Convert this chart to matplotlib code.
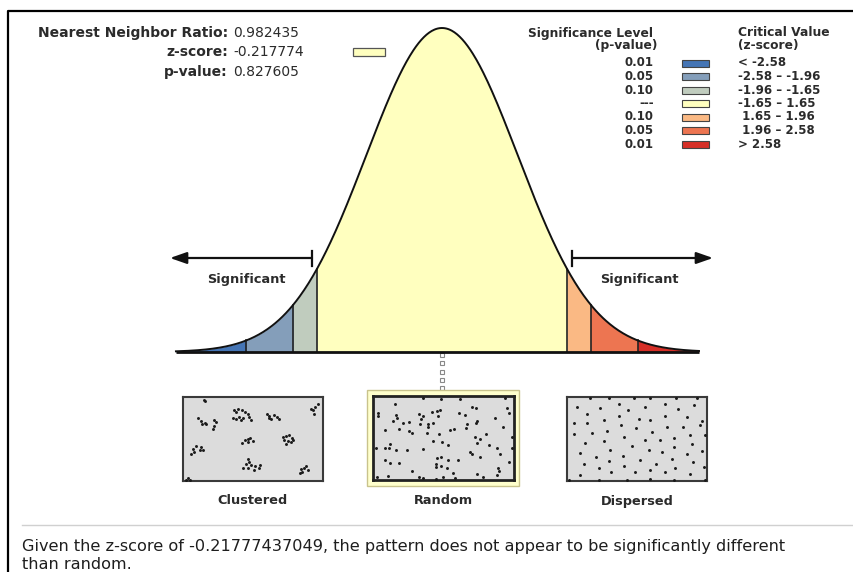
import numpy as np
import matplotlib
matplotlib.use("Agg")
import matplotlib.pyplot as plt
from matplotlib.patches import Rectangle

# ---------------- data ----------------
nn_ratio = "0.982435"
z_score = "-0.217774"
p_value = "0.827605"
z_full = "-0.21777437049"

z_breaks = [-2.58, -1.96, -1.65, 1.65, 1.96, 2.58]
z_ends = [-3.51, 3.39]
region_colors = ["#4575b5", "#849eba", "#c0ccbe", "#ffffbf", "#fab984", "#ed7551", "#d62f27"]

legend_p = ["0.01", "0.05", "0.10", "---", "0.10", "0.05", "0.01"]
legend_z = ["< -2.58", "-2.58 – -1.96", "-1.96 – -1.65", "-1.65 – 1.65",
            " 1.65 – 1.96", " 1.96 – 2.58", "> 2.58"]

panel_labels = ["Clustered", "Random", "Dispersed"]

clustered_pts = [(103,58),(107,63),(85,112),(95,122),(98,130),(105,128),(108,132),(132,120),(140,125),
    (133,137),(130,145),(195,88),(205,85),(200,95),(218,88),(228,95),(237,100),(190,112),(200,115),
    (208,110),(215,118),(222,112),(240,110),(245,118),(292,100),(300,108),(305,115),(315,105),(322,110),
    (330,115),(298,112),(425,85),(432,90),(438,80),(448,72),(435,100),(218,188),(228,180),(235,175),
    (242,172),(250,182),(235,185),(342,170),(350,167),(360,165),(368,172),(345,180),(355,183),(365,185),
    (350,192),(372,178),(70,205),(80,198),(95,200),(100,210),(72,215),(65,222),(90,210),(235,235),
    (240,245),(230,250),(245,255),(258,258),(268,262),(220,262),(235,262),(255,268),(272,255),(395,265),
    (405,262),(412,258),(418,270),(392,278),(400,275),(55,293),(62,298),(50,300)]
random_pts = [(105,72),(190,55),(245,58),(300,57),(335,80),(348,84),(435,55),(440,85),(448,100),(55,98),
    (55,108),(110,105),(112,115),(100,122),(130,128),(148,127),(178,103),(190,107),(185,118),(218,95),
    (232,92),(242,90),(236,108),(220,128),(205,133),(182,133),(298,100),(315,104),(350,123),(347,130),
    (320,133),(405,115),(75,150),(118,148),(147,153),(158,160),(205,140),(203,158),(238,162),(270,150),
    (282,148),(318,145),(345,172),(360,177),(378,163),(350,188),(388,195),(428,140),(455,172),(90,193),
    (220,183),(248,186),(88,203),(75,203),(50,203),(110,210),(143,210),(190,208),(265,194),(330,215),
    (335,222),(360,230),(410,205),(420,222),(75,240),(90,248),(118,248),(232,235),(245,232),(265,240),
    (295,240),(230,253),(243,258),(262,263),(228,262),(448,245),(158,272),(178,290),(190,293),(230,297),
    (250,290),(280,280),(285,295),(350,282),(370,292),(410,285),(415,265),(418,272),(52,292),(85,288),
    (455,205)]
dispersed_pts = [(118,52),(175,52),(250,52),(300,52),(378,52),(440,52),(80,80),(150,82),(205,70),(232,88),
    (285,80),(345,72),(382,85),(430,75),(110,100),(205,107),(265,115),(300,118),(345,108),(410,110),
    (455,122),(70,127),(110,127),(160,120),(212,135),(258,143),(305,155),(350,140),(398,140),(448,135),
    (72,162),(125,158),(170,152),(220,170),(283,180),(330,180),(372,172),(418,165),(465,163),(105,188),
    (160,183),(245,198),(295,209),(335,215),(370,200),(425,190),(90,218),(137,230),(180,208),(218,228),
    (268,240),(318,250),(365,235),(410,220),(455,212),(100,250),(145,263),(175,242),(222,258),(255,275),
    (300,270),(345,275),(375,262),(418,280),(428,244),(460,260),(90,283),(182,276),(55,300),(145,298),
    (230,300),(300,296),(370,298),(465,300)]
panel_pts = [clustered_pts, random_pts, dispersed_pts]
panel_src_box = [(40, 462, 50, 302), (40, 462, 48, 300), (50, 470, 50, 302)]

# ---------------- figure ----------------
W, H = 854, 572
fig = plt.figure(figsize=(W / 100, H / 100), dpi=100)
fig.patch.set_facecolor("white")

def fax(x0, y0, x1, y1):
    """axes placed by pixel box (top-left origin)"""
    return fig.add_axes([x0 / W, 1 - y1 / H, (x1 - x0) / W, (y1 - y0) / H])

# overlay axes in pixel coordinates
ov = fig.add_axes([0, 0, 1, 1])
ov.set_xlim(0, W)
ov.set_ylim(H, 0)
ov.axis("off")

# frame
ov.plot([8, 8, W], [H, 11, 11], color="black", lw=1.6, solid_capstyle="butt")

TXT = "#2b2b2b"
TF = 10.0
# top-left stats
ov.text(228, 33, "Nearest Neighbor Ratio:", ha="right", va="center", fontsize=TF, fontweight="bold", color=TXT)
ov.text(233, 33, nn_ratio, ha="left", va="center", fontsize=TF, color=TXT)
ov.text(228, 52, "z-score:", ha="right", va="center", fontsize=TF, fontweight="bold", color=TXT)
ov.text(233, 52, z_score, ha="left", va="center", fontsize=TF, color=TXT)
ov.add_patch(Rectangle((353, 48), 32, 8, facecolor="#ffffbf", edgecolor="#555555", lw=0.9))
ov.text(228, 72, "p-value:", ha="right", va="center", fontsize=TF, fontweight="bold", color=TXT)
ov.text(233, 72, p_value, ha="left", va="center", fontsize=TF, color=TXT)

# legend
LH = 8.8
LF = 8.5
ov.text(653, 33, "Significance Level", ha="right", va="center", fontsize=LH, fontweight="bold", color=TXT)
ov.text(657, 46, "(p-value)", ha="right", va="center", fontsize=LH, fontweight="bold", color=TXT)
ov.text(738, 33, "Critical Value", ha="left", va="center", fontsize=LH, fontweight="bold", color=TXT)
ov.text(738, 46, "(z-score)", ha="left", va="center", fontsize=LH, fontweight="bold", color=TXT)
row_y0, row_dy = 63, 13.5
for i, (p, z, c) in enumerate(zip(legend_p, legend_z, region_colors)):
    y = row_y0 + i * row_dy
    ov.text(654, y, p, ha="right", va="center", fontsize=LF, fontweight="bold", color=TXT)
    ov.add_patch(Rectangle((682, y - 3.5), 27, 7, facecolor=c, edgecolor="#444444", lw=0.8))
    ov.text(738, y, z, ha="left", va="center", fontsize=LF, fontweight="bold", color=TXT)

# ---------------- bell curve ----------------
cx, sx, base, top = 442, 75.8, 352, 28
zlim = 3.6
ca = fax(cx - zlim * sx, top, cx + zlim * sx, base)
ca.set_xlim(-zlim, zlim)
ca.set_ylim(0, 1)
ca.axis("off")
ca.patch.set_alpha(0)

def pdf(z):
    return np.exp(-0.5 * np.asarray(z) ** 2)

edges = [z_ends[0]] + z_breaks + [z_ends[1]]
for k in range(len(edges) - 1):
    zz = np.linspace(edges[k], edges[k + 1], 200)
    ca.fill_between(zz, 0, pdf(zz), color=region_colors[k], lw=0)
for zb in z_breaks:
    ca.plot([zb, zb], [0, pdf(zb)], color="#222222", lw=1.2, clip_on=False)
zz = np.linspace(z_ends[0], z_ends[1], 600)
ca.plot(zz, pdf(zz), color="#111111", lw=1.4, clip_on=False)
ca.plot(z_ends, [0, 0], color="#111111", lw=2.0, clip_on=False, solid_capstyle="butt")

# arrows / labels
ay = 258
ov.annotate("", xy=(170, ay), xytext=(312, ay),
            arrowprops=dict(arrowstyle="-|>,head_length=1.0,head_width=0.35", color="#111111", lw=1.6, shrinkA=0, shrinkB=0))
ov.plot([312, 312], [251, 266], color="#111111", lw=1.6)
ov.annotate("", xy=(713, ay), xytext=(572, ay),
            arrowprops=dict(arrowstyle="-|>,head_length=1.0,head_width=0.35", color="#111111", lw=1.6, shrinkA=0, shrinkB=0))
ov.plot([572, 572], [251, 266], color="#111111", lw=1.6)
BF = 9.3
ov.text(246, 280, "Significant", ha="center", va="center", fontsize=BF, fontweight="bold", color=TXT)
ov.text(639, 280, "Significant", ha="center", va="center", fontsize=BF, fontweight="bold", color=TXT)
ov.text(445, 261, "(Random)", ha="center", va="center", fontsize=BF, fontweight="bold", color=TXT)

# dotted connector
for yy in [355, 363, 372, 380, 388]:
    ov.add_patch(Rectangle((440, yy - 1.8), 4, 3.6, facecolor="white", edgecolor="#888888", lw=0.8))

# ---------------- panels ----------------
panel_boxes = [(183, 397, 323, 481), (373, 396, 514, 480), (567, 397, 707, 481)]
label_x = [253, 443, 637]
ov.add_patch(Rectangle((367, 390), 152, 96, facecolor="#ffffcc", edgecolor="#c9c38c", lw=1.0))
for i, ((x0, y0, x1, y1), pts, src) in enumerate(zip(panel_boxes, panel_pts, panel_src_box)):
    pa = fax(x0, y0, x1, y1)
    pa.set_xlim(0, 1)
    pa.set_ylim(1, 0)
    pa.set_facecolor("#dcdcdc")
    pa.set_xticks([])
    pa.set_yticks([])
    for s in pa.spines.values():
        s.set_color("#222222" if i == 1 else "#3a3a3a")
        s.set_linewidth(2.0 if i == 1 else 1.5)
    sx0, sx1, sy0, sy1 = src
    arr = np.array(pts, dtype=float)
    u = (arr[:, 0] - sx0) / (sx1 - sx0)
    v = (arr[:, 1] - sy0) / (sy1 - sy0)
    pa.scatter(u, v, s=4.5, color="#1a1a1a", linewidths=0, clip_on=False, zorder=3)
    ov.text(label_x[i], 501, panel_labels[i], ha="center", va="center", fontsize=BF, fontweight="bold", color=TXT)

# separator and conclusion
ov.plot([22, W], [525, 525], color="#d0d0d0", lw=1.0)
CF = 11.6
ov.text(22, 551, f"Given the z-score of {z_full}, the pattern does not appear to be significantly different",
        ha="left", va="baseline", fontsize=CF, color="#1e1e1e")
ov.text(22, 569, "than random.", ha="left", va="baseline", fontsize=CF, color="#1e1e1e")

fig.savefig("out.png", dpi=100, facecolor="white")
